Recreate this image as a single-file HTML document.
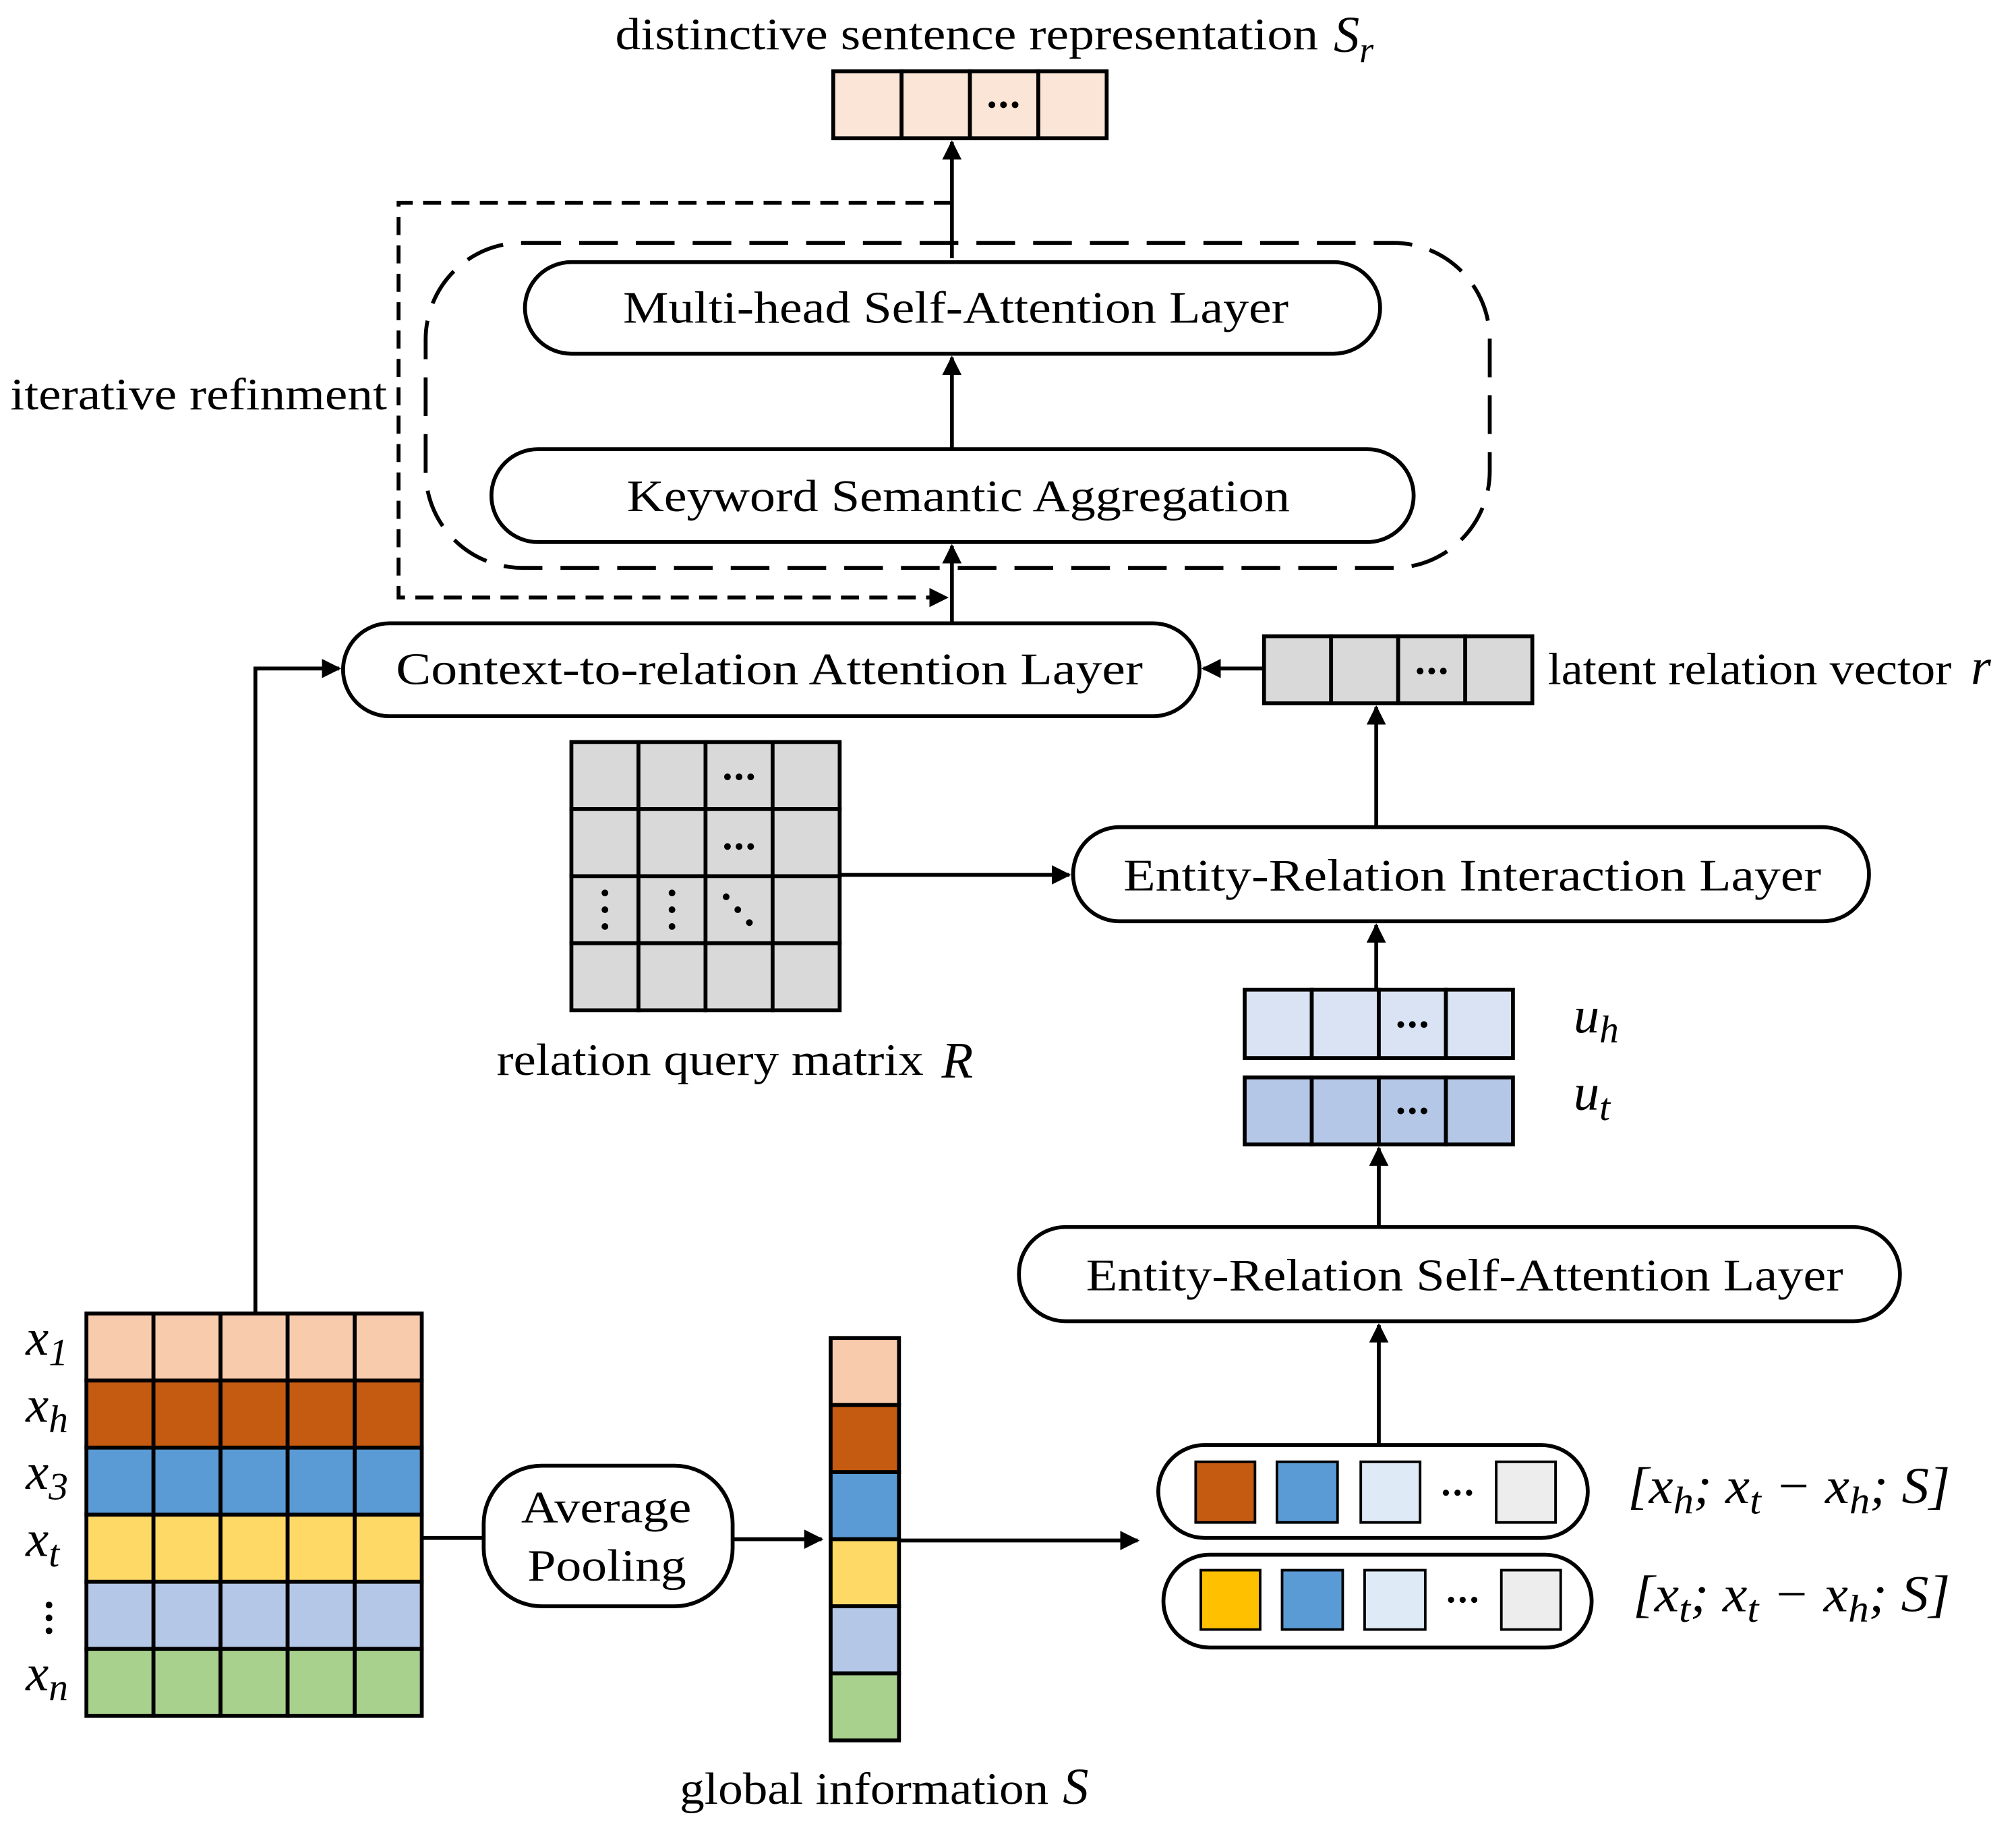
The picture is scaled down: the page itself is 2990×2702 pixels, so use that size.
<!DOCTYPE html>
<html><head><meta charset="utf-8"><style>
html,body{margin:0;padding:0;background:#fff;}
svg{display:block;}
text{font-family:"Liberation Serif","DejaVu Serif",serif;fill:#000;}
.t{font-size:35px;}
.m{font-family:"Liberation Serif",serif;font-style:italic;font-size:40px;}
</style></head><body>
<svg width="2990" height="2702" viewBox="0 0 1563 1412" xmlns="http://www.w3.org/2000/svg">
<defs>
<marker id="a" viewBox="0 0 10 10" refX="9" refY="5" markerWidth="5" markerHeight="5" orient="auto"><path d="M0,0 L10,5 L0,10 z" fill="#000"/></marker>
</defs>
<text class="t" x="477" y="38" textLength="545" lengthAdjust="spacingAndGlyphs">distinctive sentence representation</text>
<text class="m" x="1034" y="40">S<tspan font-size="28" dy="8">r</tspan></text>
<g stroke="#000" stroke-width="3">
<rect x="646" y="55" width="53" height="52" fill="#fbe5d6"/><rect x="699" y="55" width="53" height="52" fill="#fbe5d6"/><rect x="752" y="55" width="53" height="52" fill="#fbe5d6"/><rect x="805" y="55" width="53" height="52" fill="#fbe5d6"/>
</g>
<g stroke="#000" stroke-width="3" fill="none">
<line x1="738" y1="200" x2="738" y2="110" marker-end="url(#a)"/>
<polyline points="738,157 309,157 309,463 734,463" stroke-dasharray="14,8" marker-end="url(#a)"/>
<rect x="330" y="188" width="825" height="252" rx="75" stroke-dasharray="30,14"/>
<rect x="407" y="203" width="663" height="71" rx="36" fill="#fff"/>
<line x1="738" y1="348" x2="738" y2="277" marker-end="url(#a)"/>
<rect x="381" y="348" width="715" height="72" rx="36" fill="#fff"/>
<line x1="738" y1="483" x2="738" y2="423" marker-end="url(#a)"/>
<rect x="266" y="483" width="664" height="72" rx="36" fill="#fff"/>
<polyline points="198,1018 198,518 263,518" marker-end="url(#a)"/>
<line x1="980" y1="518" x2="933" y2="518" marker-end="url(#a)"/>
<line x1="1067" y1="640" x2="1067" y2="548" marker-end="url(#a)"/>
<line x1="651" y1="678" x2="829" y2="678" marker-end="url(#a)"/>
<rect x="832" y="641" width="617" height="73" rx="36" fill="#fff"/>
<line x1="1067" y1="767" x2="1067" y2="717" marker-end="url(#a)"/>
<line x1="1069" y1="950" x2="1069" y2="890" marker-end="url(#a)"/>
<rect x="790" y="951" width="683" height="73" rx="36" fill="#fff"/>
<line x1="1069" y1="1120" x2="1069" y2="1027" marker-end="url(#a)"/>
<rect x="898" y="1120" width="333" height="72" rx="36"/>
<rect x="902" y="1205" width="332" height="72" rx="36"/>
<line x1="327" y1="1192" x2="375" y2="1192"/>
<rect x="375" y="1136" width="193" height="109" rx="45"/>
<line x1="568" y1="1193" x2="637" y2="1193" marker-end="url(#a)"/>
<line x1="697" y1="1194" x2="882" y2="1194" marker-end="url(#a)"/>
</g>
<text class="t" x="8" y="317" textLength="292" lengthAdjust="spacingAndGlyphs">iterative refinment</text>
<text class="t" x="483" y="250" textLength="516" lengthAdjust="spacingAndGlyphs">Multi-head Self-Attention Layer</text>
<text class="t" x="486" y="396" textLength="514" lengthAdjust="spacingAndGlyphs">Keyword Semantic Aggregation</text>
<text class="t" x="307" y="530" textLength="579" lengthAdjust="spacingAndGlyphs">Context-to-relation Attention Layer</text>
<text class="t" x="871" y="690" textLength="541" lengthAdjust="spacingAndGlyphs">Entity-Relation Interaction Layer</text>
<text class="t" x="842" y="1000" textLength="587" lengthAdjust="spacingAndGlyphs">Entity-Relation Self-Attention Layer</text>
<text class="t" x="404" y="1180" textLength="132" lengthAdjust="spacingAndGlyphs">Average</text>
<text class="t" x="409" y="1225" textLength="123" lengthAdjust="spacingAndGlyphs">Pooling</text>
<g stroke="#000" stroke-width="3" fill="#d9d9d9">
<rect x="980" y="493" width="52" height="52"/><rect x="1032" y="493" width="52" height="52"/><rect x="1084" y="493" width="52" height="52"/><rect x="1136" y="493" width="52" height="52"/>
</g>
<text class="t" x="1200" y="530" textLength="313" lengthAdjust="spacingAndGlyphs">latent relation vector</text>
<text class="m" x="1528" y="530">r</text>
<g stroke="#000" stroke-width="3" fill="#d9d9d9">
<rect x="443" y="575" width="52" height="52"/><rect x="495" y="575" width="52" height="52"/><rect x="547" y="575" width="52" height="52"/><rect x="599" y="575" width="52" height="52"/>
<rect x="443" y="627" width="52" height="52"/><rect x="495" y="627" width="52" height="52"/><rect x="547" y="627" width="52" height="52"/><rect x="599" y="627" width="52" height="52"/>
<rect x="443" y="679" width="52" height="52"/><rect x="495" y="679" width="52" height="52"/><rect x="547" y="679" width="52" height="52"/><rect x="599" y="679" width="52" height="52"/>
<rect x="443" y="731" width="52" height="52"/><rect x="495" y="731" width="52" height="52"/><rect x="547" y="731" width="52" height="52"/><rect x="599" y="731" width="52" height="52"/>
</g>
<text class="t" x="385" y="833" textLength="331" lengthAdjust="spacingAndGlyphs">relation query matrix</text>
<text class="m" x="730" y="835">R</text>
<g stroke="#000" stroke-width="3">
<rect x="965" y="767" width="52" height="53" fill="#dae3f3"/><rect x="1017" y="767" width="52" height="53" fill="#dae3f3"/><rect x="1069" y="767" width="52" height="53" fill="#dae3f3"/><rect x="1121" y="767" width="52" height="53" fill="#dae3f3"/>
<rect x="965" y="835" width="52" height="52" fill="#b4c7e7"/><rect x="1017" y="835" width="52" height="52" fill="#b4c7e7"/><rect x="1069" y="835" width="52" height="52" fill="#b4c7e7"/><rect x="1121" y="835" width="52" height="52" fill="#b4c7e7"/>
</g>
<text class="m" x="1220" y="800">u<tspan font-size="30" dy="8">h</tspan></text>
<text class="m" x="1220" y="860">u<tspan font-size="30" dy="8">t</tspan></text>
<g stroke="#000" stroke-width="2">
<rect x="927" y="1133" width="46" height="47" fill="#c55a11"/><rect x="990" y="1133" width="47" height="47" fill="#5b9bd5"/><rect x="1055" y="1133" width="46" height="47" fill="#deebf7"/><rect x="1160" y="1133" width="46" height="47" fill="#ededed"/>
<rect x="931" y="1217" width="46" height="46" fill="#ffc000"/><rect x="994" y="1217" width="47" height="46" fill="#5b9bd5"/><rect x="1058" y="1217" width="47" height="46" fill="#deebf7"/><rect x="1164" y="1217" width="46" height="46" fill="#ededed"/>
</g>
<text class="m" x="1262" y="1165" font-style="normal" textLength="250" lengthAdjust="spacingAndGlyphs">[<tspan font-style="italic">x</tspan><tspan font-size="30" dy="8" font-style="italic">h</tspan><tspan dy="-8">; </tspan><tspan font-style="italic">x</tspan><tspan font-size="30" dy="8" font-style="italic">t</tspan><tspan dy="-8"> − </tspan><tspan font-style="italic">x</tspan><tspan font-size="30" dy="8" font-style="italic">h</tspan><tspan dy="-8">; </tspan><tspan font-style="italic">S</tspan>]</text>
<text class="m" x="1266" y="1249" font-style="normal" textLength="246" lengthAdjust="spacingAndGlyphs">[<tspan font-style="italic">x</tspan><tspan font-size="30" dy="8" font-style="italic">t</tspan><tspan dy="-8">; </tspan><tspan font-style="italic">x</tspan><tspan font-size="30" dy="8" font-style="italic">t</tspan><tspan dy="-8"> − </tspan><tspan font-style="italic">x</tspan><tspan font-size="30" dy="8" font-style="italic">h</tspan><tspan dy="-8">; </tspan><tspan font-style="italic">S</tspan>]</text>
<g stroke="#000" stroke-width="3">
<g fill="#f8cbad"><rect x="67" y="1018" width="52" height="52"/><rect x="119" y="1018" width="52" height="52"/><rect x="171" y="1018" width="52" height="52"/><rect x="223" y="1018" width="52" height="52"/><rect x="275" y="1018" width="52" height="52"/></g>
<g fill="#c55a11"><rect x="67" y="1070" width="52" height="52"/><rect x="119" y="1070" width="52" height="52"/><rect x="171" y="1070" width="52" height="52"/><rect x="223" y="1070" width="52" height="52"/><rect x="275" y="1070" width="52" height="52"/></g>
<g fill="#5b9bd5"><rect x="67" y="1122" width="52" height="52"/><rect x="119" y="1122" width="52" height="52"/><rect x="171" y="1122" width="52" height="52"/><rect x="223" y="1122" width="52" height="52"/><rect x="275" y="1122" width="52" height="52"/></g>
<g fill="#ffd966"><rect x="67" y="1174" width="52" height="52"/><rect x="119" y="1174" width="52" height="52"/><rect x="171" y="1174" width="52" height="52"/><rect x="223" y="1174" width="52" height="52"/><rect x="275" y="1174" width="52" height="52"/></g>
<g fill="#b4c7e7"><rect x="67" y="1226" width="52" height="52"/><rect x="119" y="1226" width="52" height="52"/><rect x="171" y="1226" width="52" height="52"/><rect x="223" y="1226" width="52" height="52"/><rect x="275" y="1226" width="52" height="52"/></g>
<g fill="#a9d18e"><rect x="67" y="1278" width="52" height="52"/><rect x="119" y="1278" width="52" height="52"/><rect x="171" y="1278" width="52" height="52"/><rect x="223" y="1278" width="52" height="52"/><rect x="275" y="1278" width="52" height="52"/></g>
<rect x="644" y="1037" width="53" height="52" fill="#f8cbad"/>
<rect x="644" y="1089" width="53" height="52" fill="#c55a11"/>
<rect x="644" y="1141" width="53" height="52" fill="#5b9bd5"/>
<rect x="644" y="1193" width="53" height="52" fill="#ffd966"/>
<rect x="644" y="1245" width="53" height="52" fill="#b4c7e7"/>
<rect x="644" y="1297" width="53" height="52" fill="#a9d18e"/>
</g>
<g fill="#000">
<circle cx="769" cy="81" r="2.6"/><circle cx="778" cy="81" r="2.6"/><circle cx="787" cy="81" r="2.6"/>
<circle cx="1101" cy="520" r="2.6"/><circle cx="1110" cy="520" r="2.6"/><circle cx="1119" cy="520" r="2.6"/>
<circle cx="564" cy="602" r="2.6"/><circle cx="573" cy="602" r="2.6"/><circle cx="582" cy="602" r="2.6"/>
<circle cx="564" cy="656" r="2.6"/><circle cx="573" cy="656" r="2.6"/><circle cx="582" cy="656" r="2.6"/>
<circle cx="1086" cy="794" r="2.6"/><circle cx="1095" cy="794" r="2.6"/><circle cx="1104" cy="794" r="2.6"/>
<circle cx="1086" cy="861" r="2.6"/><circle cx="1095" cy="861" r="2.6"/><circle cx="1104" cy="861" r="2.6"/>
<circle cx="1121" cy="1157" r="2.4"/><circle cx="1130" cy="1157" r="2.4"/><circle cx="1139" cy="1157" r="2.4"/>
<circle cx="1125" cy="1240" r="2.4"/><circle cx="1134" cy="1240" r="2.4"/><circle cx="1143" cy="1240" r="2.4"/>
<circle cx="469" cy="692" r="2.6"/><circle cx="469" cy="705" r="2.6"/><circle cx="469" cy="718" r="2.6"/>
<circle cx="521" cy="692" r="2.6"/><circle cx="521" cy="705" r="2.6"/><circle cx="521" cy="718" r="2.6"/>
<circle cx="563" cy="695" r="2.6"/><circle cx="572" cy="705" r="2.6"/><circle cx="581" cy="715" r="2.6"/>
<circle cx="38" cy="1244" r="2.6"/><circle cx="38" cy="1254" r="2.6"/><circle cx="38" cy="1264" r="2.6"/>
</g>
<text class="m" x="20" y="1050">x<tspan font-size="30" dy="8">1</tspan></text>
<text class="m" x="20" y="1102">x<tspan font-size="30" dy="8">h</tspan></text>
<text class="m" x="20" y="1154">x<tspan font-size="30" dy="8">3</tspan></text>
<text class="m" x="20" y="1206">x<tspan font-size="30" dy="8">t</tspan></text>
<text class="m" x="20" y="1310">x<tspan font-size="30" dy="8">n</tspan></text>
<text class="t" x="527" y="1398" textLength="286" lengthAdjust="spacingAndGlyphs">global information</text>
<text class="m" x="824" y="1398">S</text>
</svg>
</body></html>
